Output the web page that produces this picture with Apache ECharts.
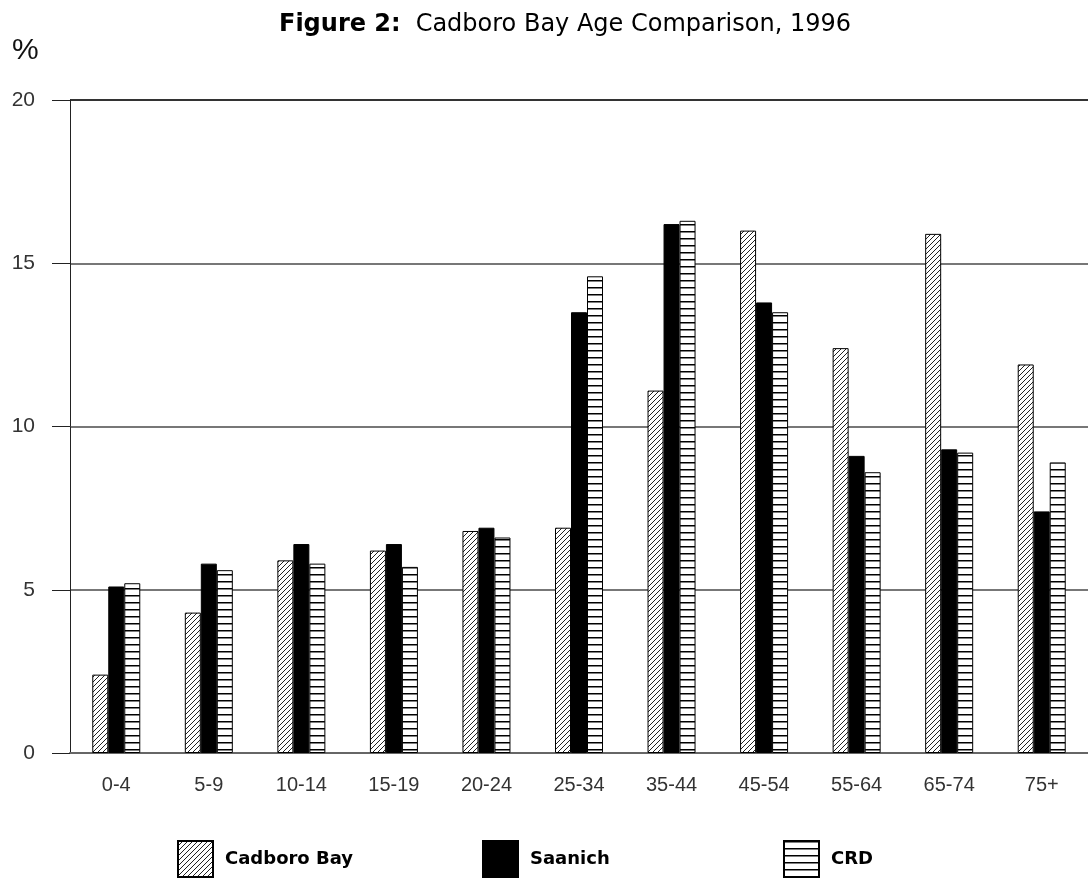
<!DOCTYPE html>
<html>
<head>
<meta charset="utf-8">
<script src="https://cdn.jsdelivr.net/npm/echarts@6/dist/echarts.min.js"></script>
<style>html,body{margin:0;padding:0;background:#fff}#c{width:1088px;height:880px}</style>
</head>
<body>
<div id="c"></div>
<script>
const categories = ['0-4','5-9','10-14','15-19','20-24','25-34','35-44','45-54','55-64','65-74','75+'];
const cadboroBay = [2.4, 4.3, 5.9, 6.2, 6.8, 6.9, 11.1, 16.0, 12.4, 15.9, 11.9];
const saanich    = [5.1, 5.8, 6.4, 6.4, 6.9, 13.5, 16.2, 13.8, 9.1, 9.3, 7.4];
const crd        = [5.2, 5.6, 5.8, 5.7, 6.6, 14.6, 16.3, 13.5, 8.6, 9.2, 8.9];
const yTicks = [0, 5, 10, 15, 20];

function diagPattern() {
  const s = 5, c = document.createElement('canvas');
  c.width = s; c.height = s;
  const g = c.getContext('2d');
  g.fillStyle = '#fff'; g.fillRect(0, 0, s, s);
  g.strokeStyle = '#222'; g.lineWidth = 1;
  g.beginPath();
  g.moveTo(-1, 1); g.lineTo(1, -1);
  g.moveTo(0, s); g.lineTo(s, 0);
  g.moveTo(s - 1, s + 1); g.lineTo(s + 1, s - 1);
  g.stroke();
  return c;
}
function horizPattern() {
  const c = document.createElement('canvas');
  c.width = 4; c.height = 7;
  const g = c.getContext('2d');
  g.fillStyle = '#fff'; g.fillRect(0, 0, 4, 7);
  g.fillStyle = '#000'; g.fillRect(0, 0, 4, 1.5);
  return c;
}
const diag = { image: diagPattern(), repeat: 'repeat' };
const horiz = { image: horizPattern(), repeat: 'repeat' };

const chart = echarts.init(document.getElementById('c'), null, { renderer: 'canvas' });
const font = '"Liberation Sans", Arial, sans-serif';
const wide = '"DejaVu Sans", Verdana, sans-serif';
const legendBase = {
  top: 840, padding: 0, itemWidth: 35, itemHeight: 36, itemGap: 16, icon: 'rect',
  textStyle: { fontFamily: wide, fontSize: 18, fontWeight: 'bold', color: '#000', padding: [6, 0, 0, 7] },
  selectedMode: false
};
chart.setOption({
  animation: false,
  backgroundColor: '#fff',
  title: {
    text: '{b|Figure 2:}   {n|Cadboro Bay Age Comparison, 1996}',
    left: 560, textAlign: 'center', top: 8,
    textStyle: {
      rich: {
        b: { fontFamily: wide, fontSize: 24, fontWeight: 'bold', color: '#000' },
        n: { fontFamily: wide, fontSize: 24, fontWeight: 'normal', color: '#000' }
      }
    }
  },
  graphic: [{
    type: 'text', left: 12, top: 36,
    style: { text: '%', fontFamily: font, fontSize: 30, fill: '#111' }
  }],
  legend: [
    Object.assign({}, legendBase, { data: ['Cadboro Bay'], left: 177 }),
    Object.assign({}, legendBase, { data: ['Saanich'], left: 482 }),
    Object.assign({}, legendBase, { data: ['CRD'], left: 783 })
  ],
  grid: { left: 70, top: 100, width: 1025, height: 653, containLabel: false },
  xAxis: {
    type: 'category', data: categories,
    axisLine: { lineStyle: { color: '#666', width: 2 } },
    axisTick: { alignWithLabel: true, length: 15, lineStyle: { color: '#222', width: 1 } },
    axisLabel: { fontFamily: font, fontSize: 20, color: '#333', margin: 22 },
    splitLine: { show: false }
  },
  yAxis: {
    type: 'value', min: 0, max: 20, interval: 5,
    axisLine: { show: true, lineStyle: { color: '#222', width: 1 } },
    axisTick: { show: true, length: 18, lineStyle: { color: '#222' } },
    axisLabel: { fontFamily: font, fontSize: 21, color: '#333', margin: 35,
      formatter: v => yTicks.includes(v) ? String(v) : '' },
    splitLine: { show: true, lineStyle: { color: ['#777', '#777', '#777', '#777', '#333'], width: 2 } }
  },
  series: [
    { name: 'Cadboro Bay', type: 'bar', data: cadboroBay, barWidth: 16, barGap: '0%',
      itemStyle: { color: diag, borderColor: '#000', borderWidth: 1 } },
    { name: 'Saanich', type: 'bar', data: saanich, barWidth: 16, barGap: '0%',
      itemStyle: { color: '#000', borderColor: '#000', borderWidth: 1 } },
    { name: 'CRD', type: 'bar', data: crd, barWidth: 16, barGap: '0%',
      itemStyle: { color: horiz, borderColor: '#000', borderWidth: 1 } }
  ]
});
</script>
</body>
</html>
